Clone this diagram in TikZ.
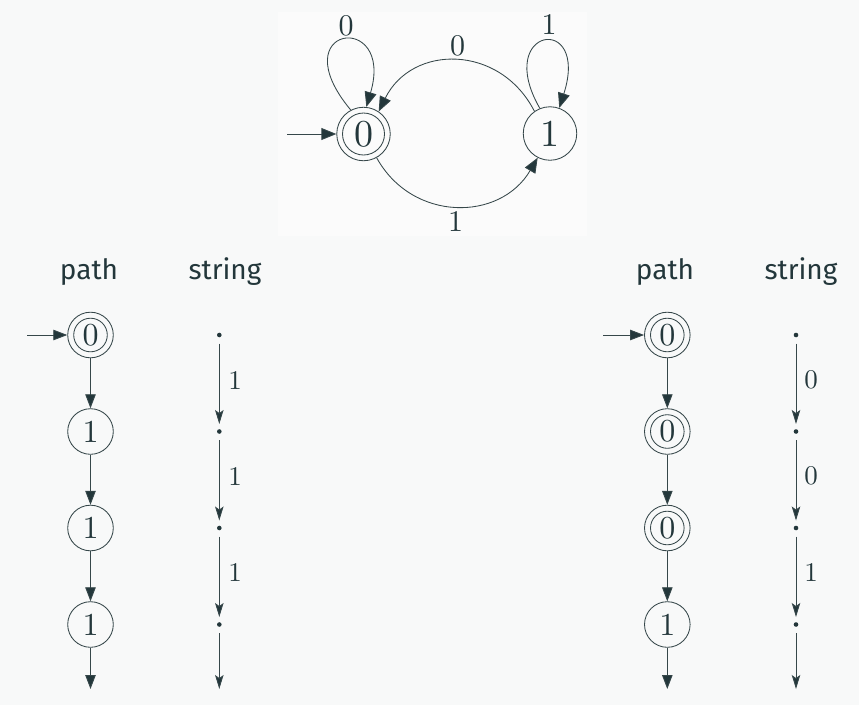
\documentclass[tikz,border=0pt]{standalone}
\usepackage{fontspec}
\newfontfamily\firafont{Fira Sans}
\newfontfamily\digitfont{lmroman10-regular}[Extension=.otf]
\usetikzlibrary{arrows.meta}
\definecolor{fgc}{HTML}{23373B}
\definecolor{pagebg}{HTML}{F8F9F9}
\definecolor{boxbg}{HTML}{FBFBFB}
\definecolor{linec}{HTML}{36474A}
\tikzset{
  bigstate/.style={circle,draw=linec,line width=0.85pt,minimum size=53.5pt,inner sep=0pt,font=\digitfont\fontsize{38}{38}\selectfont,text=fgc},
  bigacc/.style={bigstate,path picture={\draw[linec,line width=0.85pt] (path picture bounding box.center) circle (21pt);}},
  smallstate/.style={circle,draw=linec,line width=0.85pt,minimum size=45.6pt,inner sep=0pt,font=\digitfont\fontsize{32}{32}\selectfont,text=fgc},
  smallacc/.style={smallstate,path picture={\draw[linec,line width=0.85pt] (path picture bounding box.center) circle (16.8pt);}},
  edgelab/.style={font=\digitfont\fontsize{30}{30}\selectfont,text=fgc,inner sep=0pt},
  strlab/.style={font=\digitfont\fontsize{27}{27}\selectfont,text=fgc,inner sep=0pt},
  head/.style={font=\firafont\fontsize{28}{28}\selectfont,text=fgc,inner sep=0pt,anchor=base},
  toparr/.style={draw=linec,line width=0.85pt,-{Triangle[length=15pt,width=12pt,fill=fgc]}},
  patharr/.style={draw=linec,line width=0.9pt,-{Triangle[length=14pt,width=10.5pt,fill=fgc]}},
  strarr/.style={draw=linec,line width=0.9pt,-{Stealth[length=14pt,width=8.5pt,inset=3pt,fill=fgc]}},
  sdot/.style={circle,fill=fgc,inner sep=0pt,minimum size=4.6pt},
}
\begin{document}
\begin{tikzpicture}[x=1pt,y=-1pt]
\fill[pagebg] (0,0) rectangle (859,705);
\useasboundingbox (0,0) rectangle (859,705);
\fill[boxbg] (278,12) rectangle (587,236);
% top automaton
\node[bigacc] (s0) at (363.5,134) {0};
\node[bigstate] (s1) at (550,133.5) {1};
\coordinate (init) at (287,134);
\draw[toparr] (init) -- (s0.west);
\draw[toparr] (s0.118) .. controls (280,25) and (395,10) .. (s0.84);
\draw[toparr] (s1.112) .. controls (493,27) and (590,12) .. (s1.70);
\draw[toparr] (s1.125) .. controls (500,44) and (412,44) .. (s0.56);
\draw[toparr] (s0.-61) .. controls (412,222) and (500,222) .. (s1.-117);
\node[edgelab] (l00) at (346,26) {0};
\node[edgelab] (l11) at (549,24.5) {1};
\node[edgelab] (l10) at (457.5,46) {0};
\node[edgelab] (l01) at (455.5,222) {1};
% headers
\node[head] (h1) at (89,279) {path};
\node[head] (h2) at (225,279) {string};
\node[head] (h3) at (665,279) {path};
\node[head] (h4) at (801,279) {string};
% left path column
\coordinate (li) at (27,335);
\node[smallacc] (a0) at (90.5,335) {0};
\node[smallstate] (a1) at (90.5,431.5) {1};
\node[smallstate] (a2) at (90.5,528) {1};
\node[smallstate] (a3) at (90.5,624.5) {1};
\coordinate (aend) at (90.5,689);
\draw[patharr] (li) -- (a0.west);
\draw[patharr] (a0) -- (a1);
\draw[patharr] (a1) -- (a2);
\draw[patharr] (a2) -- (a3);
\draw[patharr] (a3) -- (aend);
% left string column
\node[sdot] (b0) at (219.3,335) {};
\node[sdot] (b1) at (219.3,431.5) {};
\node[sdot] (b2) at (219.3,528) {};
\node[sdot] (b3) at (219.3,624.5) {};
\coordinate (bend) at (219.3,689);
\draw[strarr,shorten <=6pt,shorten >=5pt] (b0) -- (b1);
\draw[strarr,shorten <=6pt,shorten >=5pt] (b1) -- (b2);
\draw[strarr,shorten <=6pt,shorten >=5pt] (b2) -- (b3);
\draw[strarr,shorten <=6pt] (b3) -- (bend);
\node[strlab] (bl1) at (235,380) {1};
\node[strlab] (bl2) at (235,476) {1};
\node[strlab] (bl3) at (235,572) {1};
% right path column
\coordinate (ri) at (603,335);
\node[smallacc] (c0) at (667.3,335) {0};
\node[smallacc] (c1) at (667.3,431.5) {0};
\node[smallacc] (c2) at (667.3,528) {0};
\node[smallstate] (c3) at (667.3,624.5) {1};
\coordinate (cend) at (667.3,689);
\draw[patharr] (ri) -- (c0.west);
\draw[patharr] (c0) -- (c1);
\draw[patharr] (c1) -- (c2);
\draw[patharr] (c2) -- (c3);
\draw[patharr] (c3) -- (cend);
% right string column
\node[sdot] (d0) at (796,335) {};
\node[sdot] (d1) at (796,431.5) {};
\node[sdot] (d2) at (796,528) {};
\node[sdot] (d3) at (796,624.5) {};
\coordinate (dend) at (796,689);
\draw[strarr,shorten <=6pt,shorten >=5pt] (d0) -- (d1);
\draw[strarr,shorten <=6pt,shorten >=5pt] (d1) -- (d2);
\draw[strarr,shorten <=6pt,shorten >=5pt] (d2) -- (d3);
\draw[strarr,shorten <=6pt] (d3) -- (dend);
\node[strlab] (dl1) at (811,380) {0};
\node[strlab] (dl2) at (811,476) {0};
\node[strlab] (dl3) at (811,572) {1};
\end{tikzpicture}
\end{document}
